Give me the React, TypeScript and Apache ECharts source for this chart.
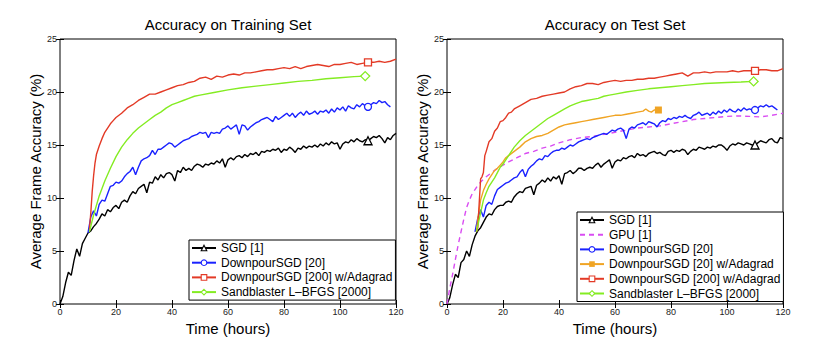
import React, { useEffect, useRef } from "react";
import * as echarts from "echarts";

// ---------- data ----------
const hourTicks = [0, 20, 40, 60, 80, 100, 120];

// Training set
const sgdTrainStart = 0;
const sgdTrain = [
  0.0, 0.7, 2.0, 3.0, 2.7, 4.1, 5.2, 4.5, 5.7, 6.2,
  6.7, 6.9, 7.3, 7.6, 8.0, 8.5, 8.3, 8.9, 8.7, 9.1,
  9.3, 9.0, 9.6, 9.8, 9.6, 10.2, 10.6, 10.4, 10.9, 11.1,
  11.3, 10.5, 11.5, 11.4, 12.0, 11.7, 12.2, 11.9, 12.3, 12.4,
  12.2, 11.6, 12.6, 12.4, 12.9, 12.6, 12.8, 12.6, 13.0, 13.2,
  13.1, 12.9, 13.2, 13.1, 13.3, 13.2, 13.5, 13.3, 13.7, 12.9,
  13.6, 13.8, 13.6, 13.9, 14.0, 13.8, 14.1, 13.9, 14.2, 14.1,
  14.3, 14.0, 14.4, 14.3, 14.5, 14.4, 14.6, 14.5, 14.7, 14.3,
  14.6, 14.5, 14.8, 14.6, 14.3, 14.7, 14.6, 14.9, 14.7, 14.9,
  14.8, 15.0, 14.8, 15.1, 14.9, 15.2, 15.0, 15.3, 15.1, 15.2,
  14.6, 15.1, 15.3, 15.2, 15.5, 15.3, 15.6, 15.4, 15.3, 15.5,
  15.4, 15.6, 15.8, 15.7, 15.9, 15.6, 15.2, 15.7, 15.5, 15.9,
  16.1,
];

const dsTrainStart = 10;
const dsTrain = [
  6.7, 8.2, 8.8, 8.3, 9.4, 9.8, 9.7, 10.4, 11.1, 11.2,
  11.5, 11.4, 11.6, 12.0, 12.3, 12.5, 12.9, 12.2, 12.9, 13.5,
  13.7, 13.8, 14.0, 14.5, 14.1, 14.6, 14.6, 14.8, 15.0, 15.2,
  15.1, 14.8, 15.0, 15.2, 15.4, 15.5, 15.6, 15.8, 15.9, 16.0,
  16.2, 16.1, 16.2, 15.7, 16.2, 16.1, 16.2, 16.1, 16.5, 16.6,
  16.8, 16.5, 16.7, 16.9, 16.0, 16.9, 16.8, 16.4, 16.7, 16.9,
  17.1, 17.2, 17.4, 17.5, 17.6, 17.4, 17.2, 17.7, 17.4, 17.6,
  17.8, 18.0, 17.7, 18.0, 17.6, 17.9, 18.1, 17.8, 18.2, 17.9,
  18.0, 18.2, 17.9, 18.2, 18.1, 18.3, 18.0, 18.4, 18.1, 18.5,
  18.3, 18.6, 18.2, 18.7, 18.5, 18.4, 18.8, 18.6, 18.9, 18.7,
  18.6, 18.8, 19.0, 18.9, 19.2, 19.0, 19.1, 18.8, 18.6,
];

const dsAdaTrain: [number, number][] = [
  [10.5, 7.0], [11, 8.6], [11.5, 10.6], [12, 12.1], [12.5, 13.3], [13, 14.1],
  [14, 14.9], [15, 15.6], [16, 16.2], [17, 16.6], [18, 17.0], [19, 17.3],
  [20, 17.6], [22, 18.0], [24, 18.5], [26, 18.8], [28, 19.2], [30, 19.5],
  [32, 19.8], [34, 19.8], [36, 20.0], [38, 20.2], [40, 20.4], [42, 20.6],
  [44, 20.7], [46, 20.9], [48, 21.0], [50, 21.3], [52, 21.4], [54, 21.2],
  [56, 21.5], [58, 21.4], [60, 21.6], [62, 21.7], [64, 21.6], [66, 21.8],
  [68, 21.8], [70, 21.9], [72, 22.0], [74, 22.1], [76, 22.1], [78, 22.2],
  [80, 22.3], [82, 22.2], [84, 22.4], [86, 22.2], [88, 22.4], [90, 22.5],
  [92, 22.6], [94, 22.5], [96, 22.4], [98, 22.6], [100, 22.6], [102, 22.7],
  [104, 22.8], [106, 22.6], [108, 22.7], [110, 22.8], [112, 22.8], [114, 22.9],
  [116, 22.8], [118, 22.9], [120, 23.1],
];

const lbfgsTrain: [number, number][] = [
  [10.5, 6.8], [12, 8.4], [14, 10.2], [16, 11.6], [18, 12.8], [20, 13.9],
  [22, 14.8], [24, 15.5], [26, 16.1], [28, 16.6], [30, 17.0], [32, 17.4],
  [34, 17.8], [36, 18.1], [38, 18.5], [40, 18.8], [42, 19.0], [44, 19.2],
  [46, 19.4], [48, 19.6], [50, 19.7], [55, 19.95], [60, 20.2], [65, 20.4],
  [70, 20.55], [75, 20.7], [80, 20.85], [85, 21.0], [90, 21.1], [95, 21.25],
  [100, 21.35], [105, 21.45], [109, 21.5],
];

// Test set
const sgdTestStart = 0;
const sgdTest = [
  0.0, 0.6, 1.8, 2.8, 2.5, 3.9, 4.2, 5.0, 4.5, 5.6,
  6.4, 6.9, 7.2, 7.7, 8.2, 8.5, 8.4, 8.9, 9.2, 9.3,
  9.3, 9.6, 9.7, 9.6, 10.1, 10.4, 10.6, 10.5, 10.9, 11.0,
  11.1, 10.3, 11.2, 11.4, 11.7, 11.5, 11.9, 11.6, 12.0, 11.8,
  12.1, 11.3, 12.3, 12.4, 12.6, 12.3, 12.5, 12.8, 12.8, 12.6,
  12.8, 12.9, 12.8, 13.1, 13.3, 12.9, 13.2, 13.4, 13.6, 12.8,
  13.4, 13.6, 13.5, 13.8, 13.7, 13.9, 14.0, 13.8, 14.2, 14.0,
  14.1, 13.9, 14.2, 14.3, 14.4, 14.2, 14.3, 14.1, 14.0, 14.4,
  14.5, 14.3, 14.5, 14.4, 14.6, 14.5, 14.1, 14.4, 14.6, 14.5,
  14.8, 14.7, 14.6, 14.8, 14.7, 14.9, 14.8, 15.0, 15.0, 14.8,
  14.5, 14.9, 15.1, 15.0, 15.2, 15.1, 15.0, 15.2, 15.1, 15.0,
  15.0, 15.2, 15.4, 15.3, 15.2, 15.5, 15.6, 15.3, 15.2, 15.7,
  15.6,
];

const gpuTest: [number, number][] = [
  [0, 0], [1, 1.5], [2, 2.8], [3, 4.2], [4, 5.6], [5, 6.8], [6, 8.0],
  [7, 9.1], [8, 9.8], [9, 10.4], [10, 10.8], [11, 11.2], [12, 11.5],
  [14, 12.0], [16, 12.4], [18, 12.8], [20, 13.1], [22, 13.4], [25, 13.8],
  [28, 14.2], [31, 14.4], [34, 14.7], [37, 14.9], [40, 15.2], [44, 15.5],
  [48, 15.7], [52, 15.8], [56, 16.0], [60, 16.2], [64, 16.4], [68, 16.6],
  [72, 16.7], [76, 16.8], [80, 17.0], [84, 17.2], [88, 17.4], [92, 17.5],
  [96, 17.6], [100, 17.7], [104, 17.75], [108, 17.7], [112, 17.65],
  [116, 17.8], [120, 18.0],
];

const dsTestStart = 10;
const dsTest = [
  6.8, 8.1, 8.9, 8.2, 9.3, 9.6, 9.4, 10.2, 10.8, 11.0,
  11.2, 11.4, 11.5, 11.7, 11.9, 12.0, 12.4, 12.7, 12.0, 12.7,
  13.0, 13.2, 13.5, 13.7, 13.6, 14.0, 13.9, 14.2, 14.4, 14.5,
  14.5, 14.7, 14.6, 14.8, 15.0, 14.9, 15.1, 15.3, 15.4, 15.5,
  15.6, 15.5, 15.7, 15.8, 15.9, 16.0, 16.1, 16.0, 16.2, 16.4,
  16.3, 16.5, 16.6, 16.4, 15.6, 16.5, 16.7, 16.6, 16.9, 17.0,
  17.1, 16.9, 17.2, 17.1, 17.0, 16.7, 17.1, 17.3, 17.2, 17.5,
  17.4, 17.6, 17.5, 17.7, 17.6, 17.8, 17.6, 17.5, 17.8, 17.9,
  18.1, 17.8, 17.9, 18.0, 17.8, 18.1, 17.9, 18.2, 18.0, 18.3,
  18.1, 18.4, 18.2, 18.1, 18.4, 18.2, 18.5, 18.3, 18.4, 18.3,
  18.3, 18.5, 18.7, 18.6, 18.8, 18.6, 18.7, 18.5, 18.3,
];

const ds20AdaTest: [number, number][] = [
  [10.5, 6.8], [11, 8.0], [12, 9.8], [13, 10.7], [14, 11.3], [15, 11.8],
  [16, 12.2], [17, 12.6], [18, 12.8], [19, 13.1], [20, 13.4], [21, 13.8],
  [22, 14.0], [24, 14.4], [26, 14.8], [28, 15.3], [30, 15.6], [32, 15.8],
  [34, 15.9], [36, 16.1], [38, 16.4], [40, 16.7], [42, 16.9], [44, 17.0],
  [46, 17.1], [48, 17.2], [50, 17.3], [52, 17.4], [54, 17.5], [56, 17.6],
  [58, 17.7], [60, 17.8], [62, 17.8], [64, 17.9], [66, 18.0], [68, 18.1],
  [70, 18.2], [71, 18.4], [72, 18.2], [73, 18.1], [74, 18.3], [75.5, 18.3],
];

const ds200AdaTest: [number, number][] = [
  [10.5, 6.8], [11, 7.2], [11.5, 9.5], [12, 11.8], [12.5, 12.0], [13, 12.4],
  [13.5, 14.0], [14, 14.4], [15, 15.3], [16, 15.6], [17, 16.3], [18, 16.6],
  [19, 17.2], [20, 17.3], [21, 17.6], [22, 18.0], [23, 18.1], [24, 18.4],
  [26, 18.7], [28, 19.0], [30, 19.3], [32, 19.4], [34, 19.6], [36, 19.7],
  [38, 19.8], [40, 19.9], [42, 20.0], [44, 20.3], [46, 20.5], [48, 20.6],
  [50, 20.8], [52, 20.8], [54, 20.7], [56, 20.9], [58, 21.0], [60, 21.1],
  [62, 21.0], [64, 21.1], [66, 21.1], [68, 21.2], [70, 21.2], [72, 21.3],
  [74, 21.3], [76, 21.4], [78, 21.5], [80, 21.6], [82, 21.7], [84, 21.8],
  [86, 21.5], [88, 21.8], [90, 21.8], [92, 21.9], [94, 21.8], [96, 21.9],
  [98, 21.9], [100, 21.9], [102, 22.0], [104, 21.9], [106, 22.0], [108, 22.0],
  [110, 22.0], [112, 22.1], [114, 22.1], [116, 22.0], [118, 22.0], [120, 22.2],
];

const lbfgsTest: [number, number][] = [
  [10.5, 6.8], [12, 8.6], [13, 9.8], [14, 10.5], [15, 11.1], [16, 11.5],
  [17, 11.9], [18, 12.4], [19, 12.9], [20, 13.2], [22, 14.0], [24, 14.8],
  [26, 15.4], [28, 15.9], [30, 16.3], [32, 16.7], [34, 17.1], [36, 17.5],
  [38, 17.8], [40, 18.1], [42, 18.4], [44, 18.7], [46, 18.9], [48, 19.1],
  [50, 19.2], [52, 19.3], [54, 19.4], [56, 19.6], [58, 19.7], [60, 19.8],
  [64, 20.0], [68, 20.15], [72, 20.3], [76, 20.4], [80, 20.5], [84, 20.6],
  [88, 20.7], [92, 20.8], [96, 20.85], [100, 20.9], [105, 20.95], [109.5, 21.0],
];

// marker positions (hour at which the single marker of each curve sits)
const markerHourTrain = { sgd: 110, ds: 110, dsAda: 110, lbfgs: 109 };
const markerHourTest = { sgd: 110, ds: 110, ds20Ada: 75.5, ds200Ada: 110, lbfgs: 109.5 };

const titles = ["Accuracy on Training Set", "Accuracy on Test Set"];
const names = {
  sgd: "SGD [1]",
  gpu: "GPU [1]",
  ds: "DownpourSGD [20]",
  ds20Ada: "DownpourSGD [20] w/Adagrad",
  ds200Ada: "DownpourSGD [200] w/Adagrad",
  lbfgs: "Sandblaster L\u2013BFGS [2000]",
};

// ---------- styling ----------
const FONT = "Liberation Sans, Arial, Helvetica, sans-serif";
const C = {
  sgd: "#000000",
  gpu: "#d94cf2",
  ds: "#1a22ff",
  ds20Ada: "#f0a424",
  ds200Ada: "#e33a26",
  lbfgs: "#84ec22",
};

const uniform = (start: number, vals: number[]): [number, number][] =>
  vals.map((v, i) => [start + i, v]);

const hollowStyle = (color: string) => ({ color: "#ffffff", borderColor: color, borderWidth: 1.3 });
const filledStyle = (color: string) => ({ color, borderColor: color, borderWidth: 0 });

function lineSeries(
  name: string,
  pts: [number, number][],
  color: string,
  symbol: string,
  symbolSize: number,
  markerHour: number | null,
  axisIdx: number,
  opts: { dashed?: boolean; filled?: boolean } = {}
) {
  return {
    type: "line",
    name,
    xAxisIndex: axisIdx,
    yAxisIndex: axisIdx,
    silent: true,
    symbol,
    symbolSize,
    showSymbol: true,
    clip: true,
    lineStyle: { color, width: 1.4, type: opts.dashed ? [5, 4] : "solid" },
    itemStyle: opts.filled ? filledStyle(color) : hollowStyle(color),
    data: pts.map((p) =>
      markerHour !== null && Math.abs(p[0] - markerHour) < 1e-6
        ? { value: p }
        : { value: p, symbol: "none" }
    ),
  };
}

const legendItem = (name: string, color: string, kind: "hollow" | "filled" | "none" = "hollow") => ({
  name,
  itemStyle:
    kind === "none"
      ? { opacity: 0 }
      : kind === "filled"
      ? filledStyle(color)
      : { ...hollowStyle(color), borderWidth: 1.1 },
});

function axesFor(grid: number) {
  const common = {
    type: "value",
    gridIndex: grid,
    axisLine: { show: false },
    splitLine: { show: false },
    axisTick: { show: true, inside: true, length: 4, lineStyle: { color: "#000", width: 1 } },
  };
  const x = [
    {
      ...common,
      min: hourTicks[0],
      max: hourTicks[hourTicks.length - 1],
      interval: hourTicks[1] - hourTicks[0],
      position: "bottom",
      name: "Time (hours)",
      nameLocation: "middle",
      nameGap: 12,
      nameTextStyle: { fontFamily: FONT, fontSize: 15, color: "#000", verticalAlign: "top" },
      axisLabel: { fontFamily: FONT, fontSize: 9, color: "#222", margin: 3 },
    },
    {
      ...common,
      min: hourTicks[0],
      max: hourTicks[hourTicks.length - 1],
      interval: hourTicks[1] - hourTicks[0],
      position: "top",
      axisLabel: { show: false },
    },
  ];
  const y = [
    {
      ...common,
      min: 0,
      max: 25,
      interval: 5,
      position: "left",
      name: "Average Frame Accuracy (%)",
      nameLocation: "middle",
      nameGap: 15,
      nameTextStyle: { fontFamily: FONT, fontSize: 15, color: "#000" },
      axisLabel: { fontFamily: FONT, fontSize: 9, color: "#222", margin: 3 },
    },
    {
      ...common,
      min: 0,
      max: 25,
      interval: 5,
      position: "right",
      axisLabel: { show: false },
    },
  ];
  return { x, y };
}

export default function App() {
  const ref = useRef<HTMLDivElement>(null);

  useEffect(() => {
    if (!ref.current) return;
    const chart = echarts.init(ref.current, null, { renderer: "svg" });

    const a0 = axesFor(0);
    const a1 = axesFor(1);
    // axis index layout: x: [g0 bottom, g0 top, g1 bottom, g1 top]; same for y
    const xAxis = [...a0.x, ...a1.x];
    const yAxis = [...a0.y, ...a1.y];

    const legendCommon = {
      orient: "vertical",
      selectedMode: false,
      itemWidth: 24,
      itemHeight: 7,
      itemGap: 0.7,
      padding: [1, 3, 1, 2],
      borderColor: "#000",
      borderWidth: 1,
      backgroundColor: "#fff",
      textStyle: { fontFamily: FONT, fontSize: 12, color: "#000", lineHeight: 14 },
    };

    const option = {
      animation: false,
      backgroundColor: "#fff",
      title: [
        {
          text: titles[0],
          left: 228,
          top: 17,
          textAlign: "center",
          padding: 0,
          textStyle: { fontFamily: FONT, fontSize: 15, fontWeight: "normal", color: "#000" },
        },
        {
          text: titles[1],
          left: 615,
          top: 17,
          textAlign: "center",
          padding: 0,
          textStyle: { fontFamily: FONT, fontSize: 15, fontWeight: "normal", color: "#000" },
        },
      ],
      grid: [
        { left: 60, top: 39, width: 336, height: 265, show: true, borderColor: "#000", borderWidth: 1, backgroundColor: "transparent" },
        { left: 447, top: 39, width: 336, height: 265, show: true, borderColor: "#000", borderWidth: 1, backgroundColor: "transparent" },
      ],
      xAxis,
      yAxis,
      legend: [
        {
          ...legendCommon,
          left: 189,
          top: 240,
          data: [
            legendItem(names.sgd, C.sgd),
            legendItem(names.ds, C.ds),
            legendItem(names.ds200Ada, C.ds200Ada),
            legendItem(names.lbfgs, C.lbfgs),
          ],
        },
        {
          ...legendCommon,
          left: 577,
          top: 212,
          data: [
            legendItem(names.sgd, C.sgd),
            legendItem(names.gpu, C.gpu, "none"),
            legendItem(names.ds, C.ds),
            legendItem(names.ds20Ada, C.ds20Ada, "filled"),
            legendItem(names.ds200Ada, C.ds200Ada),
            legendItem(names.lbfgs, C.lbfgs),
          ],
        },
      ],
      series: [
        // training set (axes 0)
        lineSeries(names.sgd, uniform(sgdTrainStart, sgdTrain), C.sgd, "triangle", 8, markerHourTrain.sgd, 0),
        lineSeries(names.ds, uniform(dsTrainStart, dsTrain), C.ds, "circle", 7, markerHourTrain.ds, 0),
        lineSeries(names.ds200Ada, dsAdaTrain, C.ds200Ada, "rect", 7, markerHourTrain.dsAda, 0),
        lineSeries(names.lbfgs, lbfgsTrain, C.lbfgs, "diamond", 9, markerHourTrain.lbfgs, 0),
        // test set (axes 2)
        lineSeries(names.sgd, uniform(sgdTestStart, sgdTest), C.sgd, "triangle", 8, markerHourTest.sgd, 2),
        lineSeries(names.gpu, gpuTest, C.gpu, "none", 0, null, 2, { dashed: true }),
        lineSeries(names.ds, uniform(dsTestStart, dsTest), C.ds, "circle", 7, markerHourTest.ds, 2),
        lineSeries(names.ds20Ada, ds20AdaTest, C.ds20Ada, "rect", 7, markerHourTest.ds20Ada, 2, { filled: true }),
        lineSeries(names.ds200Ada, ds200AdaTest, C.ds200Ada, "rect", 7, markerHourTest.ds200Ada, 2),
        lineSeries(names.lbfgs, lbfgsTest, C.lbfgs, "diamond", 9, markerHourTest.lbfgs, 2),
      ],
    };

    chart.setOption(option as any);
    return () => chart.dispose();
  }, []);

  return (
    <div
      ref={ref}
      style={{ position: "absolute", left: 0, top: 0, width: 817, height: 348, background: "#fff" }}
    />
  );
}
